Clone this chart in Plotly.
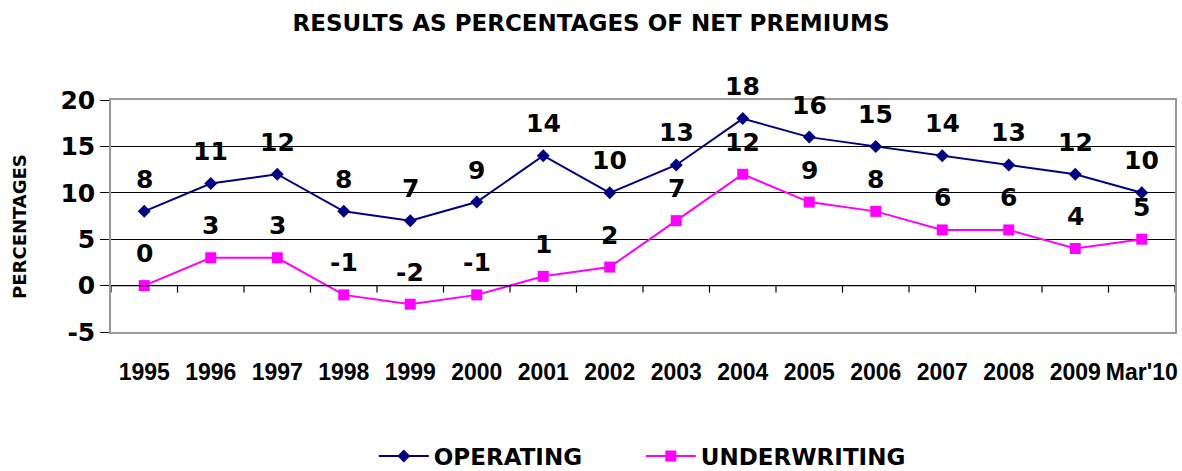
import plotly.graph_objects as go

categories = ["1995", "1996", "1997", "1998", "1999", "2000", "2001", "2002",
              "2003", "2004", "2005", "2006", "2007", "2008", "2009", "Mar'10"]
operating = [8, 11, 12, 8, 7, 9, 14, 10, 13, 18, 16, 15, 14, 13, 12, 10]
underwriting = [0, 3, 3, -1, -2, -1, 1, 2, 7, 12, 9, 8, 6, 6, 4, 5]
y_ticks = [-5, 0, 5, 10, 15, 20]
y_tick_labels = ["-5", "0", "5", "10", "15", "20"]

FONT = "DejaVu Sans, Arial, sans-serif"
XFONT = "Liberation Sans, Arial, sans-serif"
NAVY = "#000080"
MAGENTA = "#FF00FF"

fig = go.Figure()
fig.add_trace(go.Scatter(x=categories, y=operating, name="OPERATING", mode="lines+markers",
                         line=dict(color=NAVY, width=2),
                         marker=dict(symbol="diamond", size=10, color=NAVY)))
fig.add_trace(go.Scatter(x=categories, y=underwriting, name="UNDERWRITING", mode="lines+markers",
                         line=dict(color=MAGENTA, width=2),
                         marker=dict(symbol="square", size=11, color=MAGENTA)))

annotations = []
for series in (operating, underwriting):
    for i, v in enumerate(series):
        annotations.append(dict(x=i, y=v, xref="x", yref="y", text=str(v), showarrow=False,
                                yshift=32, font=dict(family=FONT, size=25, color="black",
                                                     weight="bold")))
annotations.append(dict(x=-0.0855, y=0.453, xref="paper", yref="paper", text="PERCENTAGES",
                        textangle=-90, showarrow=False, xanchor="center", yanchor="middle",
                        font=dict(family=FONT, size=18, color="black", weight="bold")))
fig.update_layout(annotations=annotations)

# category axis line at zero with tick marks between categories
shapes = [dict(type="line", xref="paper", yref="y", x0=0, x1=1, y0=0, y1=0,
               line=dict(color="black", width=1.2))]
for i in range(len(categories) + 1):
    shapes.append(dict(type="line", xref="x", yref="y", x0=i - 0.5, x1=i - 0.5, y0=0, y1=-0.75,
                       line=dict(color="black", width=1.2)))
fig.update_layout(shapes=shapes)

fig.update_layout(
    width=1182, height=471,
    margin=dict(l=111, r=7, t=100, b=139, autoexpand=False),
    paper_bgcolor="white", plot_bgcolor="white",
    title=dict(text="RESULTS AS PERCENTAGES OF NET PREMIUMS", x=0.5, xanchor="center",
               xref="container", y=0.951, yanchor="middle",
               font=dict(family=FONT, size=23, color="black", weight="bold")),
    font=dict(family=FONT, color="black"),
    xaxis=dict(type="category", range=[-0.5, len(categories) - 0.5], showgrid=False,
               tickfont=dict(family=XFONT, size=23, color="black", weight="bold"),
               ticks="", showline=True, linecolor="#999999", linewidth=1.5, mirror=True,
               ticklabelstandoff=19, automargin=False),
    yaxis=dict(range=[-5, 20], tickvals=y_ticks, ticktext=y_tick_labels,
               showgrid=True, gridcolor="black", gridwidth=1,
               zeroline=False, ticks="outside", ticklen=9, tickcolor="black",
               tickfont=dict(family=FONT, size=25, color="black", weight="bold"),
               showline=True, linecolor="#999999", linewidth=1.5, mirror=True,
               automargin=False),
    legend=dict(orientation="h", x=0.247, xanchor="left", y=-0.535, yanchor="middle",
                font=dict(family=FONT, size=23, color="black", weight="bold"),
                itemwidth=50, entrywidth=202),
    showlegend=True,
)

fig.write_html("out.html", config={"displayModeBar": False},
               post_script="document.body.style.margin='0';")
